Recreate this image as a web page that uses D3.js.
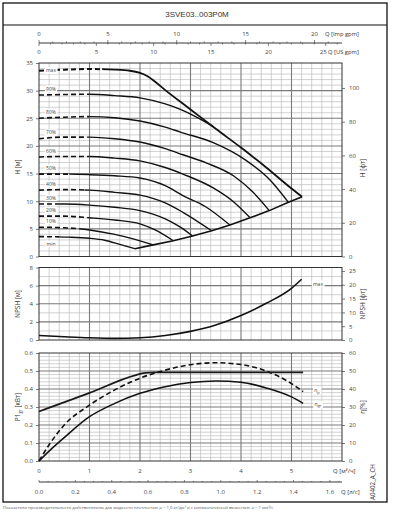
<!DOCTYPE html>
<html>
<head>
<meta charset="utf-8">
<script src="https://cdn.jsdelivr.net/npm/d3@7"></script>
<style>
body { margin: 0; background: #fff; }
svg { display: block; font-family: "Open Sans", "Liberation Sans", sans-serif; }
</style>
</head>
<body>
<div id="graphicContainer"></div>
<script>
// ---- data ----
const chartTitle = "3SVE03..003P0M"
const speedNames = ["max", "90%", "80%", "70%", "60%", "50%", "40%", "30%", "20%", "10%", "min"]

// head curves, [Q m3/h, H m]
const hMax = [[0,33.6],[0.5,33.8],[1,33.9],[1.5,33.8],[1.8,33.6],[2,33.2],[2.15,32.6],[2.3,31.6],[2.5,30.1],[3,26.6],[3.5,23.1],[4,19.7],[4.5,16.1],[5,12.3],[5.21,10.8]]
const h90 = [[0,29.2],[0.5,29.3],[1,29.35],[1.5,29.1],[2,28.7],[2.5,27.6],[2.8,26.6],[3.1,25.3],[3.45,23.5]]
const h80 = [[0,25.0],[0.5,25.2],[1,25.3],[1.5,25.1],[2,24.5],[2.5,23.4],[2.8,22.5],[3.45,20.6],[4.1,17.4],[4.57,13.9],[4.94,9.8]]
const h70 = [[0,21.3],[0.5,21.6],[1,21.6],[1.5,21.3],[2,20.7],[2.5,19.5],[2.85,18.4],[3.32,16.9],[3.85,14.6],[4.24,11.6],[4.56,8.3]]
const h60 = [[0,18.0],[0.5,18.1],[1,18.1],[1.5,17.8],[2,17.3],[2.5,16.1],[2.85,14.9],[3.45,12.4],[3.85,9.9],[4.18,7.0]]
const h50 = [[0,14.9],[0.5,14.9],[1,14.8],[1.5,14.6],[2,14.2],[2.5,12.8],[2.85,11.0],[3.3,9.0],[3.78,5.7]]
const h40 = [[0,12.0],[0.5,12.1],[1,12.0],[1.5,11.6],[2,11.1],[2.5,9.7],[2.85,8.0],[3.42,4.65]]
const h30 = [[0,9.5],[0.5,9.5],[1,9.3],[1.5,8.9],[2,8.3],[2.5,6.8],[2.8,5.3],[3.04,3.7]]
const h20 = [[0,7.3],[0.5,7.3],[1,7.0],[1.5,6.6],[2,5.9],[2.3,4.8],[2.66,2.85]]
const h10 = [[0,5.3],[0.5,5.2],[1,4.8],[1.5,4.0],[1.9,3.1],[2.26,2.1]]
const hMin = [[0,3.6],[0.6,3.5],[1,3.3],[1.3,2.95],[1.6,2.2],[1.9,1.4]]
const headCurves = [hMax, h90, h80, h70, h60, h50, h40, h30, h20, h10, hMin]
// dashed part of each head curve runs from Q=0 to this Q
const dashTo = [1.25, 1.0, 1.0, 0.95, 1.0, 0.6, 0.9, 0.4, 0.95, 0.8, 0.4]

// NPSH
const npshQ = [0, 0.5, 1, 1.5, 2, 2.5, 3, 3.5, 4, 4.5, 5, 5.2]
const npshM = [0.5, 0.36, 0.24, 0.18, 0.25, 0.5, 0.95, 1.65, 2.7, 4.05, 5.7, 6.7]

// power P1 [kW]
const powerQ = [0, 1, 1.9, 2.1, 2.3, 5.23]
const powerKw = [0.275, 0.378, 0.476, 0.489, 0.492, 0.492]

// efficiencies [%]
const etaQ = [0, 0.2, 0.5, 1, 1.5, 2, 2.5, 3, 3.5, 4, 4.5, 5, 5.23]
const etaP = [0, 9, 20, 31, 39.5, 46, 50.5, 53.5, 54.6, 53.6, 50, 43, 38.5]
const etaGr = [0, 5.5, 13, 24.6, 32, 37.6, 41.3, 43.6, 44.5, 43.8, 40.6, 35.6, 32]

// tick labels
const hTicks = [0, 5, 10, 15, 20, 25, 30, 35]
const hFtTicks = [0, 20, 40, 60, 80, 100]
const nTicks = [0, 2, 4, 6, 8]
const nFtTicks = [0, 5, 10, 15, 20, 25]
const pTicks = [0, 0.1, 0.2, 0.3, 0.4, 0.5, 0.6]
const etaTicks = [0, 10, 20, 30, 40, 50, 60]
const qTicks = [0, 1, 2, 3, 4, 5]
const lsTicks = [0, 0.2, 0.4, 0.6, 0.8, 1.0, 1.2, 1.4, 1.6]
const impTicks = [0, 5, 10, 15, 20]
const usTicks = [0, 5, 10, 15, 20, 25]

const footnote = "Показатели производительности действительны для жидкости плотностью ρ = 1,0 кг/дм³ и с кинематической вязкостью υ = 1 мм²/с"

// ---- drawing ----
const W = 398, H = 513
const svg = d3.select("#graphicContainer").append("svg")
	.attr("width", W).attr("height", H)
const defs = svg.append("defs")

const left = 39, right = 342
const x = d3.scaleLinear().domain([0, 6]).range([left, right])
const xImp = d3.scaleLinear().domain([0, 6 * 3.6662]).range([left, right])
const xUs = d3.scaleLinear().domain([0, 6 * 4.4029]).range([left, right])
const xLs = d3.scaleLinear().domain([0, 6 / 3.6]).range([left, right])

const yH = d3.scaleLinear().domain([0, 35]).range([256.5, 63])
const yHft = d3.scaleLinear().domain([0, 35 / 0.3048]).range([256.5, 63])
const yN = d3.scaleLinear().domain([0, 8]).range([340, 267.5])
const yNft = d3.scaleLinear().domain([0, 8 / 0.3048]).range([340, 267.5])
const yP = d3.scaleLinear().domain([0, 0.6]).range([461, 353])
const yE = d3.scaleLinear().domain([0, 60]).range([461, 353])

const tickColor = "#444"

function panel(y, nMinor, minorStep, majorEvery) {
	const g = svg.append("g")
	const yb = y.range()[0], yt = y.range()[1]
	const vMinor = d3.range(1, 30).filter(i => i % 5 != 0).map(i => i * 0.2)
	const vMajor = [1, 2, 3, 4, 5]
	g.selectAll(".vmin").data(vMinor).enter().append("line")
		.attr("x1", d => x(d)).attr("x2", d => x(d))
		.attr("y1", yb).attr("y2", yt)
		.attr("stroke", "#b4b4b4").attr("stroke-width", 0.6)
	const hMinor = d3.range(1, nMinor).filter(i => i % majorEvery != 0).map(i => i * minorStep)
	const hMajor = d3.range(1, nMinor).filter(i => i % majorEvery == 0).map(i => i * minorStep)
	g.selectAll(".hmin").data(hMinor).enter().append("line")
		.attr("x1", left).attr("x2", right)
		.attr("y1", d => y(d)).attr("y2", d => y(d))
		.attr("stroke", "#b4b4b4").attr("stroke-width", 0.6)
	g.selectAll(".vmaj").data(vMajor).enter().append("line")
		.attr("x1", d => x(d)).attr("x2", d => x(d))
		.attr("y1", yb).attr("y2", yt)
		.attr("stroke", "#7a7a7a").attr("stroke-width", 1.1)
	g.selectAll(".hmaj").data(hMajor).enter().append("line")
		.attr("x1", left).attr("x2", right)
		.attr("y1", d => y(d)).attr("y2", d => y(d))
		.attr("stroke", "#7a7a7a").attr("stroke-width", 1.1)
	g.append("rect")
		.attr("x", left).attr("y", yt)
		.attr("width", right - left).attr("height", yb - yt)
		.attr("fill", "none").attr("stroke", "#333").attr("stroke-width", 1)
	return g
}

function styleAxis(g) {
	g.select(".domain").remove()
	g.selectAll("line").attr("stroke", tickColor).attr("stroke-width", 0.7)
	g.selectAll("text").attr("font-size", "6px").attr("fill", tickColor)
		.attr("font-family", "'Open Sans', sans-serif")
}

function sideAxes(yl, yr, lt, rt, lfmt, rfmt) {
	svg.append("g").attr("transform", "translate(" + left + ",0)")
		.call(d3.axisLeft(yl).tickValues(lt).tickSize(3).tickPadding(3).tickFormat(lfmt))
		.call(styleAxis)
	svg.append("g").attr("transform", "translate(" + right + ",0)")
		.call(d3.axisRight(yr).tickValues(rt).tickSize(3).tickPadding(4).tickFormat(rfmt))
		.call(styleAxis)
}

function vTitle(xp, yp, txt) {
	return svg.append("text")
		.attr("transform", "translate(" + xp + "," + yp + ") rotate(-90)")
		.attr("text-anchor", "middle").attr("dy", "0.35em")
		.attr("font-size", "6.5px").attr("fill", "#333")
		.text(txt)
}

function boxLabel(g, xp, yp, build) {
	const t = g.append("text")
		.attr("x", xp).attr("y", yp).attr("dy", "0.35em")
		.attr("text-anchor", "middle")
		.attr("font-size", "5px").attr("fill", "#444")
	build(t)
	const b = t.node().getBBox()
	g.insert("rect", function() { return t.node() })
		.attr("x", b.x - 1.2).attr("y", b.y - 0.3)
		.attr("width", b.width + 2.4).attr("height", b.height + 0.6)
		.attr("fill", "#fff")
}

// outer frame and title
svg.append("rect").attr("x", 3).attr("y", 3).attr("width", 384).attr("height", 499)
	.attr("fill", "none").attr("stroke", "#111").attr("stroke-width", 1.3)
svg.append("line").attr("x1", 3).attr("x2", 387).attr("y1", 25).attr("y2", 25)
	.attr("stroke", "#111").attr("stroke-width", 1.1)
svg.append("text").attr("x", 197).attr("y", 14).attr("dy", "0.35em")
	.attr("text-anchor", "middle").attr("font-size", "8px").attr("fill", "#333")
	.attr("font-family", "'Liberation Sans', Arial, sans-serif")
	.text(chartTitle)

// top flow axes (Imp gpm / US gpm)
const topAx = svg.append("g")
topAx.append("line").attr("x1", left).attr("x2", right).attr("y1", 43).attr("y2", 43)
	.attr("stroke", "#222").attr("stroke-width", 0.9)
topAx.selectAll(".ti").data(d3.range(0, 22)).enter().append("line")
	.attr("x1", d => xImp(d)).attr("x2", d => xImp(d))
	.attr("y1", 43).attr("y2", d => d % 5 == 0 ? 40 : 41.5)
	.attr("stroke", "#333").attr("stroke-width", 0.6)
topAx.selectAll(".tu").data(d3.range(0, 27)).enter().append("line")
	.attr("x1", d => xUs(d)).attr("x2", d => xUs(d))
	.attr("y1", 43).attr("y2", d => d % 5 == 0 ? 46 : 44.5)
	.attr("stroke", "#333").attr("stroke-width", 0.6)
topAx.selectAll(".li").data(impTicks).enter().append("text")
	.attr("x", d => xImp(d)).attr("y", 34).attr("dy", "0.35em")
	.attr("text-anchor", "middle").attr("font-size", "6px").attr("fill", tickColor)
	.text(d => d)
topAx.selectAll(".lu").data(usTicks).enter().append("text")
	.attr("x", (d, i) => i == usTicks.length - 1 ? xUs(d) + 1 : xUs(d))
	.attr("y", 52).attr("dy", "0.35em")
	.attr("text-anchor", (d, i) => i == usTicks.length - 1 ? "end" : "middle")
	.attr("font-size", "6px").attr("fill", tickColor)
	.text(d => d)
topAx.append("text").attr("x", 325).attr("y", 34).attr("dy", "0.35em")
	.attr("font-size", "5.8px").attr("fill", "#333").text("Q [Imp gpm]")
topAx.append("text").attr("x", 328).attr("y", 52).attr("dy", "0.35em")
	.attr("font-size", "5.8px").attr("fill", "#333").text("Q [US gpm]")

// ---- head chart ----
const headG = panel(yH, 35, 1, 5)
sideAxes(yH, yHft, hTicks, hFtTicks, d => d, d => d)
vTitle(18, 167, "H [м]")
vTitle(363, 168, "H [фт]")

const hLine = d3.line().x(d => x(d[0])).y(d => yH(d[1])).curve(d3.curveMonotoneX)
const curveG = svg.append("g").attr("fill", "none").attr("stroke", "#111")

headCurves.forEach(function(c, i) {
	const xd = x(dashTo[i])
	defs.append("clipPath").attr("id", "cd" + i).append("rect")
		.attr("x", 0).attr("y", 0).attr("width", xd).attr("height", H)
	defs.append("clipPath").attr("id", "cs" + i).append("rect")
		.attr("x", xd).attr("y", 0).attr("width", W - xd).attr("height", H)
	curveG.append("path").attr("d", hLine(c))
		.attr("clip-path", "url(#cd" + i + ")")
		.attr("stroke-width", i == 0 ? 2 : 1.6)
		.attr("stroke-dasharray", "5,3")
	curveG.append("path").attr("d", hLine(c))
		.attr("clip-path", "url(#cs" + i + ")")
		.attr("stroke-width", i == 0 ? 1.8 : 1.4)
})

// lower limit line through the curve ends (90% merges into max)
const ends = headCurves.filter((c, i) => i != 1).map(c => c[c.length - 1])
	.sort((a, b) => a[0] - b[0])
curveG.append("path")
	.attr("d", d3.line().x(d => x(d[0])).y(d => yH(d[1]))(ends))
	.attr("stroke-width", 1.6)

const speedLab = svg.append("g")
headCurves.forEach(function(c, i) {
	let yy = yH(c[0][1]) - 6
	if (i == 0) yy = yH(c[0][1])
	if (i == headCurves.length - 1) yy = yH(c[0][1]) + 7.5
	boxLabel(speedLab, 51, yy, t => t.text(speedNames[i]))
})

// ---- NPSH chart ----
panel(yN, 8, 1, 2)
sideAxes(yN, yNft, nTicks, nFtTicks, d => d, d => d)
vTitle(18, 304, "NPSH [м]")
vTitle(363, 304, "NPSH [фт]")

const npshData = npshQ.map((q, i) => [q, npshM[i]])
svg.append("path")
	.attr("d", d3.line().x(d => x(d[0])).y(d => yN(d[1])).curve(d3.curveMonotoneX)(npshData))
	.attr("fill", "none").attr("stroke", "#111").attr("stroke-width", 1.6)
boxLabel(svg.append("g"), 318, 284, t => t.text("max"))

// ---- power / efficiency chart ----
panel(yP, 30, 0.02, 5)
sideAxes(yP, yE, pTicks, etaTicks, d3.format(".1f"), d => d)
const pTitle = vTitle(18, 407, "")
pTitle.append("tspan").text("P1")
pTitle.append("tspan").attr("font-size", "4.5px").attr("dy", "1.5").text("gr")
pTitle.append("tspan").attr("dy", "-1.5").text(" [кВт]")
vTitle(363, 407, "η[%]")

const powerData = powerQ.map((q, i) => [q, powerKw[i]])
svg.append("path")
	.attr("d", d3.line().x(d => x(d[0])).y(d => yP(d[1])).curve(d3.curveMonotoneX)(powerData))
	.attr("fill", "none").attr("stroke", "#1a1a1a").attr("stroke-width", 1.8)

const eLine = d3.line().x(d => x(d[0])).y(d => yE(d[1])).curve(d3.curveMonotoneX)
svg.append("path")
	.attr("d", eLine(etaQ.map((q, i) => [q, etaP[i]])))
	.attr("fill", "none").attr("stroke", "#111").attr("stroke-width", 1.6)
	.attr("stroke-dasharray", "5,3")
svg.append("path")
	.attr("d", eLine(etaQ.map((q, i) => [q, etaGr[i]])))
	.attr("fill", "none").attr("stroke", "#111").attr("stroke-width", 1.5)

const etaLab = svg.append("g")
boxLabel(etaLab, 317, yE(etaP[etaP.length - 1]) - 1, function(t) {
	t.append("tspan").text("η")
	t.append("tspan").attr("font-size", "4px").attr("dy", "1.2").text("p")
})
boxLabel(etaLab, 318, yE(etaGr[etaGr.length - 1]) + 1, function(t) {
	t.append("tspan").text("η")
	t.append("tspan").attr("font-size", "4px").attr("dy", "1.2").text("gr")
})

// ---- bottom flow axes ----
const botAx = svg.append("g")
botAx.selectAll(".lq").data(qTicks).enter().append("text")
	.attr("x", d => x(d)).attr("y", 471).attr("dy", "0.35em")
	.attr("text-anchor", "middle").attr("font-size", "6px").attr("fill", tickColor)
	.text(d => d)
botAx.append("text").attr("x", 333).attr("y", 471).attr("dy", "0.35em")
	.attr("font-size", "6px").attr("fill", "#333").text("Q [м³/ч]")
botAx.append("line").attr("x1", left).attr("x2", right).attr("y1", 482).attr("y2", 482)
	.attr("stroke", "#222").attr("stroke-width", 0.9)
botAx.selectAll(".tl").data(d3.range(0, 34)).enter().append("line")
	.attr("x1", d => xLs(d * 0.05)).attr("x2", d => xLs(d * 0.05))
	.attr("y1", d => d % 4 == 0 ? 480 : 481).attr("y2", 482)
	.attr("stroke", "#333").attr("stroke-width", 0.6)
botAx.selectAll(".ll").data(lsTicks).enter().append("text")
	.attr("x", d => xLs(d)).attr("y", 492).attr("dy", "0.35em")
	.attr("text-anchor", "middle").attr("font-size", "6px").attr("fill", tickColor)
	.text(d3.format(".1f"))
botAx.append("text").attr("x", 341).attr("y", 492).attr("dy", "0.35em")
	.attr("font-size", "6px").attr("fill", "#333").text("Q [л/с]")

svg.append("text")
	.attr("transform", "translate(373,482) rotate(-90)")
	.attr("text-anchor", "middle").attr("dy", "0.35em")
	.attr("font-size", "6.2px").attr("fill", "#333")
	.text("A0402_A_CH")

svg.append("text").attr("x", 3).attr("y", 509)
	.attr("font-size", "4.2px").attr("fill", "#555")
	.text(footnote)
</script>
</body>
</html>
